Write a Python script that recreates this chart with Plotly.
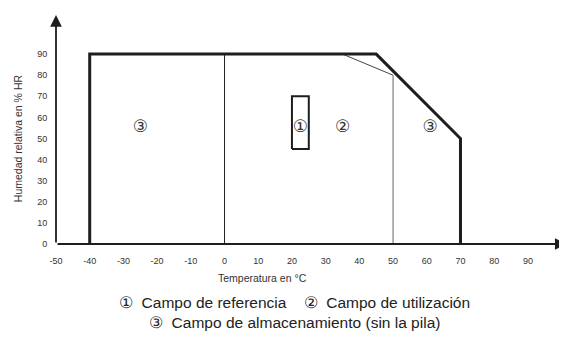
import plotly.graph_objects as go

# storage range (thick outline)
storage_x = [-40, -40, 45, 70, 70]
storage_y = [0, 90, 90, 50, 0]
# usage range (thin lines)
usage_left_x = [0, 0]
usage_left_y = [0, 90]
usage_right_x = [35, 50, 50]
usage_right_y = [90, 80, 0]
# reference range (rectangle)
ref_x = [20, 25, 25, 20, 20]
ref_y = [45, 45, 70, 70, 45]

x_ticks = [-50, -40, -30, -20, -10, 0, 10, 20, 30, 40, 50, 60, 70, 80, 90]
x_tick_text = ["-50", "-40", "-30", "-20", "-10", "0", "10", "20", "30", "40",
               "50", "60", "70", "80", "90"]
y_ticks = [0, 10, 20, 30, 40, 50, 60, 70, 80, 90]

zone_labels = ["③", "①", "②", "③"]
zone_x = [-25, 22.5, 35, 61]
zone_y = [55, 55, 55, 55]

font = "Liberation Sans, Arial, sans-serif"
ink = "#1e1e1e"

fig = go.Figure()
fig.add_trace(go.Scatter(x=usage_left_x, y=usage_left_y, mode="lines",
                         line=dict(color=ink, width=1), cliponaxis=False))
fig.add_trace(go.Scatter(x=usage_right_x[:2], y=usage_right_y[:2], mode="lines",
                         line=dict(color="#444", width=1), cliponaxis=False))
fig.add_trace(go.Scatter(x=usage_right_x[1:], y=usage_right_y[1:], mode="lines",
                         line=dict(color="#888", width=1.3), cliponaxis=False))
fig.add_trace(go.Scatter(x=storage_x, y=storage_y, mode="lines",
                         line=dict(color=ink, width=3), cliponaxis=False))
fig.add_trace(go.Scatter(x=ref_x, y=ref_y, mode="lines",
                         line=dict(color=ink, width=2), cliponaxis=False))
fig.add_trace(go.Scatter(x=zone_x, y=zone_y, mode="text", text=zone_labels,
                         textfont=dict(size=17, color="#333", family="DejaVu Sans")))

annotations = [
    # axis arrows
    dict(x=-50, y=108.5, ax=-50, ay=0, xref="x", yref="y", axref="x", ayref="y",
         showarrow=True, arrowhead=2, arrowsize=1.3, arrowwidth=1.8, arrowcolor=ink, text=""),
    dict(x=101.5, y=0, ax=-50, ay=0, xref="x", yref="y", axref="x", ayref="y",
         showarrow=True, arrowhead=2, arrowsize=1.3, arrowwidth=1.8, arrowcolor=ink, text=""),
    dict(text="Humedad relativa en % HR", textangle=-90, x=-0.074, y=0.453,
         xanchor="center", yanchor="middle",
         xref="paper", yref="paper", showarrow=False, font=dict(size=10.5, color="#333", family=font)),
    dict(text="Temperatura en °C", x=0.405, y=-0.145, xanchor="center", yanchor="middle",
         xref="paper", yref="paper",
         showarrow=False, font=dict(size=10.5, color="#333", family=font)),
    dict(text="①  Campo de referencia    ②  Campo de utilización", x=0.466, y=-0.252,
         xanchor="center", yanchor="middle",
         xref="paper", yref="paper", showarrow=False, font=dict(size=15.5, color="#222", family=font)),
    dict(text="③  Campo de almacenamiento (sin la pila)", x=0.466, y=-0.335,
         xanchor="center", yanchor="middle",
         xref="paper", yref="paper", showarrow=False, font=dict(size=15.5, color="#222", family=font)),
]

# page body has an 8px margin, so the figure is shifted; compensate in size/margins
fig.update_layout(
    template="none",
    width=559, height=330,
    margin=dict(l=48, r=0, t=2, b=94, autoexpand=False),
    plot_bgcolor="white", paper_bgcolor="white",
    showlegend=False,
    annotations=annotations,
    xaxis=dict(range=[-50, 101.6], tickvals=x_ticks, ticktext=x_tick_text,
               showgrid=False, zeroline=False, automargin=False,
               showline=False, ticks="outside", ticklen=8, tickcolor="rgba(0,0,0,0)",
               tickfont=dict(size=9, color="#333", family=font)),
    yaxis=dict(range=[0, 110.9], tickvals=y_ticks, showgrid=False, zeroline=False,
               automargin=False,
               showline=False, ticks="outside", ticklen=6, tickcolor="rgba(0,0,0,0)",
               tickfont=dict(size=9, color="#333", family=font)),
)

fig.write_html("out.html")
